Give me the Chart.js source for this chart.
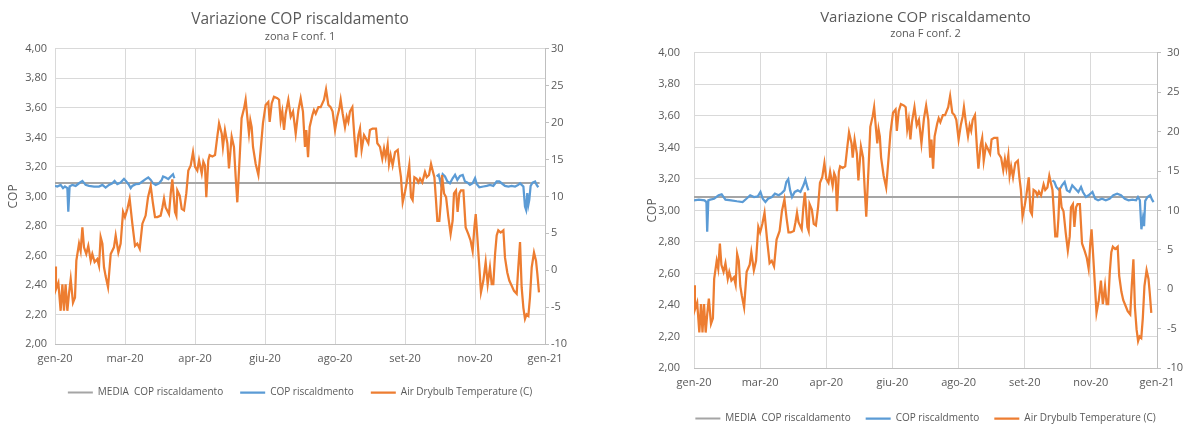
<!DOCTYPE html>
<html>
<head>
<meta charset="utf-8">
<script src="https://cdn.jsdelivr.net/npm/chart.js@4.4.0/dist/chart.umd.min.js"></script>
<style>
  html, body { margin: 0; background: #fff; overflow: hidden; }
  body { width: 1193px; height: 425px; position: relative; }
  canvas { position: absolute; top: 0; }
  #copConf1 { left: 0; }
  #copConf2 { left: 640px; }
</style>
</head>
<body>
<canvas id="copConf1" width="600" height="425"></canvas>
<canvas id="copConf2" width="571" height="440"></canvas>
<script>
// x axis runs over the days of the year (0..365), labelled every seventh of it
const monthLabels = ['gen-20', 'mar-20', 'apr-20', 'giu-20', 'ago-20', 'set-20', 'nov-20', 'gen-21'];
const yearDays = 365;

// outdoor air dry-bulb temperature (°C), same weather file for both configurations
const tempDay = [
  0, 0.7, 2.5, 4.2, 5.5, 6.7, 7.9, 9.2, 10.4, 11.7,
  13.4, 14.9, 15.9, 17.9, 19.1, 20.4, 21.6, 23.3, 24.8, 26.6,
  27.8, 29.5, 31.5, 32.8, 34.0, 35.3, 36.5, 37.7, 39.5, 41.5,
  43.9, 45.2, 47.2, 48.9, 50.7, 52.1, 53.9, 55.6, 57.6, 59.6,
  61.3, 63.1, 65.1, 67.5, 69.3, 71.3, 73.0, 74.5, 76.2, 78.7,
  80.0, 81.2, 82.4, 84.9, 86.2, 87.4, 89.4, 90.4, 91.1, 92.9,
  94.4, 96.1, 97.8, 99.3, 101.1, 102.8, 104.3, 106.0, 107.3, 109.3,
  110.5, 111.7, 112.7, 114.2, 115.2, 117.2, 119.2, 120.9, 122.2, 124.2,
  125.1, 126.6, 128.4, 129.6, 131.6, 133.3, 134.6, 135.8, 137.6, 139.0,
  140.8, 142.0, 143.5, 144.5, 145.5, 146.5, 147.5, 149.5, 151.5, 153.2,
  154.9, 156.9, 158.9, 159.9, 161.4, 163.1, 165.6, 166.9, 168.1, 169.3,
  170.6, 171.8, 173.8, 175.6, 177.3, 179.3, 181.3, 183.0, 184.7, 186.2,
  187.2, 188.5, 189.7, 191.7, 192.9, 194.2, 196.2, 197.9, 200.4, 201.9,
  203.6, 205.3, 206.8, 208.6, 210.3, 211.8, 212.8, 214.3, 216.0, 217.3,
  218.5, 219.7, 221.5, 223.0, 224.2, 226.0, 227.2, 228.4, 230.2, 231.7,
  233.4, 234.6, 236.6, 239.1, 240.1, 242.1, 243.8, 245.1, 246.3, 247.8,
  248.8, 250.0, 251.5, 253.3, 255.3, 256.5, 257.7, 259.0, 260.7, 262.0,
  263.9, 265.2, 266.4, 267.7, 269.4, 270.6, 271.9, 273.6, 275.6, 276.9,
  278.6, 280.1, 281.3, 282.6, 283.8, 284.8, 286.3, 287.3, 288.3, 289.8,
  291.3, 293.0, 294.7, 296.2, 297.2, 298.7, 299.9, 301.2, 302.4, 304.2,
  305.9, 307.9, 309.6, 311.1, 312.4, 313.4, 314.6, 316.1, 317.3, 319.1,
  320.8, 322.3, 324.0, 325.3, 326.5, 327.8, 329.0, 330.2, 332.0, 334.0,
  335.2, 336.9, 338.4, 340.2, 341.9, 343.9, 345.1, 346.4, 347.6, 348.9,
  350.1, 351.3, 352.6, 353.8, 355.1, 356.8, 358.3, 359.3, 360.5
];
const tempC = [
  0.5, -2.6, -1.7, -5.5, -1.9, -5.5, -1.9, -5.5, -3.2, -1.2,
  -4.4, -3.7, 1.3, 3.6, 2.6, 5.8, 3.1, 2.2, 3.3, 1.3,
  2.2, 1.1, 1.5, 0.6, 4.5, 3.6, 0.4, -0.8, -2.3, 2.2,
  3.1, 4.7, 2.4, 3.6, 7.9, 7.2, 8.3, 9.7, 6.3, 3.3,
  3.6, 2.9, 6.3, 7.4, 9.9, 11.4, 9.0, 7.2, 7.2, 7.4,
  8.5, 9.7, 8.5, 7.6, 10.4, 12.3, 7.9, 7.4, 10.8, 10.1,
  8.3, 8.1, 10.4, 13.5, 14.2, 16.0, 14.0, 13.5, 14.9, 13.1,
  14.7, 14.2, 9.9, 14.9, 15.6, 15.4, 15.6, 18.1, 19.9, 18.5,
  16.7, 19.0, 17.2, 13.8, 18.1, 16.7, 12.6, 9.2, 15.4, 20.6,
  21.9, 23.1, 20.3, 18.5, 20.3, 19.4, 16.7, 14.4, 12.9, 16.3,
  19.9, 22.4, 22.8, 20.1, 22.6, 23.5, 23.3, 23.1, 20.3, 21.5,
  19.0, 21.2, 23.1, 20.8, 21.5, 18.5, 21.7, 23.3, 21.5, 16.7,
  19.0, 15.3, 19.4, 21.0, 21.7, 21.2, 22.1, 22.1, 23.1, 24.5,
  22.4, 22.1, 21.5, 19.0, 20.8, 21.9, 23.1, 21.2, 19.4, 20.8,
  20.1, 21.5, 22.1, 18.1, 15.3, 18.3, 19.2, 16.3, 18.3, 17.8,
  17.2, 19.0, 19.2, 19.2, 17.2, 16.7, 15.1, 16.5, 15.3, 17.0,
  14.4, 15.6, 14.2, 16.0, 16.3, 14.2, 12.6, 9.2, 10.6, 11.9,
  14.2, 9.9, 9.5, 12.6, 12.4, 11.9, 12.4, 11.9, 13.3, 12.6,
  12.9, 14.4, 13.5, 12.6, 9.5, 6.7, 6.7, 9.0, 12.9, 10.4,
  9.9, 7.2, 4.9, 6.7, 10.4, 10.8, 7.9, 10.4, 10.8, 10.8,
  5.8, 4.9, 4.0, 2.6, 5.8, 7.6, 4.5, 0.4, -3.0, -1.4,
  1.1, -1.9, 0.4, -1.9, -1.9, 2.2, 4.7, 5.4, 5.1, 5.4,
  1.7, -0.3, -1.4, -2.1, -2.8, -3.2, 0.4, 3.8, -2.3, -5.1,
  -6.6, -6.0, -6.2, -3.7, 0.4, 2.4, 1.3, -0.5, -3.0
];

// heating COP, conf. 1 (null = heat pump off in the warm season)
const copDay1 = [
  0, 1.7, 4.2, 6.0, 7.4, 9.2, 9.9, 10.9, 12.9, 15.4,
  17.9, 20.4, 22.8, 25.3, 29.1, 32.8, 35.3, 37.7, 40.2, 42.7,
  44.4, 46.4, 48.9, 51.4, 53.1, 55.1, 56.4, 57.6, 60.1, 62.6,
  65.1, 67.5, 69.5, 71.3, 73.0, 75.0, 77.5, 79.5, 80.5, 82.4,
  84.4, 86.2, 87.9, 88.9, 186,
  284.3, 285.8, 287.3, 288.8, 290.5, 292.3, 294.2, 296.2, 298.0, 299.7,
  301.7, 303.7, 305.4, 307.1, 309.1, 311.1, 312.9, 314.1, 316.1, 319.1,
  321.6, 324.0, 326.5, 329.0, 331.0, 332.7, 335.2, 337.7, 340.2, 342.7,
  345.1, 346.4, 347.6, 348.9, 350.1, 350.9, 351.8, 352.6, 353.3, 354.3,
  355.8, 357.6, 358.8, 360.0
];
const cop1 = [
  3.071, 3.067, 3.078, 3.056, 3.067, 3.056, 2.897, 3.067, 3.078, 3.071,
  3.089, 3.105, 3.078, 3.071, 3.067, 3.067, 3.078, 3.060, 3.078, 3.089,
  3.105, 3.083, 3.094, 3.119, 3.101, 3.078, 3.056, 3.071, 3.083, 3.085,
  3.101, 3.117, 3.128, 3.112, 3.089, 3.078, 3.089, 3.112, 3.135, 3.128,
  3.117, 3.135, 3.150, 3.123, null,
  3.135, 3.146, 3.089, 3.150, 3.135, 3.101, 3.089, 3.123, 3.146, 3.112,
  3.139, 3.146, 3.101, 3.094, 3.078, 3.089, 3.123, 3.085, 3.062, 3.067,
  3.071, 3.078, 3.071, 3.101, 3.101, 3.089, 3.071, 3.067, 3.071, 3.067,
  3.078, 3.089, 3.078, 3.067, 2.931, 2.909, 3.022, 2.943, 2.976, 3.071,
  3.094, 3.101, 3.078, 3.062
];

// heating COP, conf. 2
const copDay2 = [
  0, 3.8, 8.3, 9.8, 10.4, 11.3, 12.8, 15.8, 19.4, 21.8,
  24.8, 29.3, 33.8, 38.3, 41.3, 44.3, 47.3, 50.3, 52.4, 54.2,
  56.3, 58.4, 61.4, 63.8, 66.8, 69.2, 71.3, 72.8, 74.3, 75.8,
  77.3, 79.4, 81.8, 83.9, 86.3, 87.8, 89.3, 90.2, 186,
  282.6, 284.1, 285.6, 288.0, 290.1, 292.2, 294.0, 296.1, 298.2, 300.6,
  303.0, 305.1, 306.6, 309.0, 311.1, 314.1, 316.2, 318.6, 321.6, 324.6,
  327.6, 330.6, 333.6, 336.6, 339.6, 342.6, 345.6, 348.5, 350.0, 351.5,
  352.7, 353.9, 354.8, 355.7, 357.5, 359.6, 361.1, 362.3
];
const cop2 = [
  3.064, 3.068, 3.064, 3.053, 2.864, 3.064, 3.068, 3.074, 3.096, 3.102,
  3.068, 3.064, 3.058, 3.053, 3.074, 3.096, 3.085, 3.089, 3.117, 3.074,
  3.053, 3.074, 3.085, 3.106, 3.096, 3.110, 3.127, 3.181, 3.198, 3.127,
  3.085, 3.117, 3.127, 3.117, 3.159, 3.195, 3.149, 3.127, null,
  3.191, 3.181, 3.149, 3.127, 3.159, 3.181, 3.127, 3.117, 3.159, 3.138,
  3.117, 3.149, 3.117, 3.085, 3.096, 3.117, 3.074, 3.064, 3.074, 3.064,
  3.074, 3.096, 3.106, 3.096, 3.074, 3.064, 3.068, 3.064, 3.085, 3.064,
  2.880, 2.950, 2.900, 3.060, 3.085, 3.096, 3.068, 3.053
];

// seasonal average COP
const mediaCop1 = 3.09;
const mediaCop2 = 3.085;
const mediaSpan = [0, 361];

Chart.defaults.font.family = "'Open Sans', sans-serif";
Chart.defaults.color = '#595959';

const pts = (days, vals) => days.map((d, i) => ({ x: d, y: vals[i] }));

function copChart(id, cfg) {
  const L = cfg.layout;
  return new Chart(document.getElementById(id), {
    type: 'line',
    data: {
      datasets: [
        {
          label: 'MEDIA  COP riscaldamento',
          data: pts(mediaSpan, [cfg.media, cfg.media]),
          borderColor: '#A5A5A5', borderWidth: 2, yAxisID: 'y', order: 3
        },
        {
          label: 'COP riscaldmento',
          data: pts(cfg.copDay, cfg.cop),
          borderColor: '#5B9BD5', borderWidth: 2.25, yAxisID: 'y', order: 2
        },
        {
          label: 'Air Drybulb Temperature (C)',
          data: pts(tempDay, tempC),
          borderColor: '#ED7D31', borderWidth: 2.25, yAxisID: 'y1', order: 1
        }
      ]
    },
    options: {
      responsive: false,
      animation: false,
      devicePixelRatio: 1,
      elements: { point: { radius: 0 }, line: { tension: 0 } },
      layout: { padding: { left: 0, right: 0, top: 0, bottom: L.padBottom } },
      plugins: {
        title: {
          display: true, text: 'Variazione COP riscaldamento',
          font: { size: L.titleSize, weight: 'normal' },
          padding: { top: L.titleTop, bottom: L.titleBottom }
        },
        subtitle: {
          display: true, text: cfg.subtitle, color: '#595959',
          font: { size: 11, weight: 'normal' },
          padding: { top: 0, bottom: L.subBottom }
        },
        legend: {
          position: 'bottom',
          labels: {
            usePointStyle: true, pointStyle: 'line', pointStyleWidth: 25,
            padding: L.legendPad, font: { size: 10 },
            sort: (a, b) => a.datasetIndex - b.datasetIndex
          }
        },
        tooltip: { enabled: false }
      },
      scales: {
        x: {
          type: 'linear', min: 0, max: yearDays,
          afterBuildTicks: s => { s.ticks = monthLabels.map((_, i) => ({ value: i * yearDays / 7 })); },
          afterFit: s => { s.height = L.xHeight; },
          ticks: { callback: (v, i) => monthLabels[i], autoSkip: false, maxRotation: 0, padding: L.xPad, font: { size: 11 } },
          grid: { color: '#D9D9D9', drawTicks: false },
          border: { color: '#BFBFBF' }
        },
        y: {
          position: 'left', min: 2, max: 4,
          afterFit: s => { s.width = L.left; },
          ticks: { stepSize: 0.2, padding: L.yPad, font: { size: 11 }, callback: v => v.toFixed(2).replace('.', ',') },
          grid: { color: '#D9D9D9', drawTicks: false },
          border: { display: false },
          title: { display: true, text: 'COP', font: { size: 12 }, padding: { top: L.copTitle, bottom: 0 } }
        },
        y1: {
          position: 'right', min: -10, max: 30,
          afterFit: s => { s.width = L.right; },
          ticks: { stepSize: 5, padding: L.y1Pad, font: { size: 11 } },
          grid: { drawOnChartArea: false, color: '#BFBFBF', tickLength: 4 },
          border: { color: '#BFBFBF' }
        }
      }
    }
  });
}

copChart('copConf1', {
  subtitle: 'zona F conf. 1', copDay: copDay1, cop: cop1, media: mediaCop1,
  layout: {
    left: 55, right: 55, titleSize: 15.5, titleTop: 10.5, titleBottom: 1.5, subBottom: 5,
    xHeight: 26.5, xPad: 8.4, yPad: 8, y1Pad: 2, copTitle: 6.8, legendPad: 17, padBottom: 17.5
  }
});

copChart('copConf2', {
  subtitle: 'zona F conf. 2', copDay: copDay2, cop: cop2, media: mediaCop2,
  layout: {
    left: 54, right: 54, titleSize: 15, titleTop: 9, titleBottom: 0, subBottom: 12.6,
    xHeight: 30.5, xPad: 8.4, yPad: 14, y1Pad: 6, copTitle: 5.8, legendPad: 15, padBottom: 6.5
  }
});
</script>
</body>
</html>
